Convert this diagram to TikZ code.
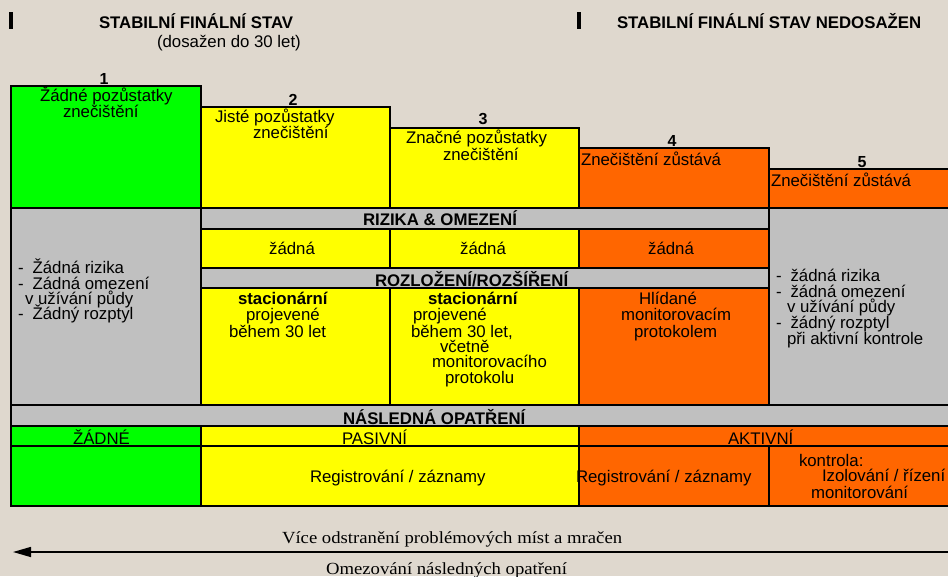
\documentclass[tikz,border=0pt]{standalone}
\usepackage{fontspec}
\setmainfont{Liberation Sans}
\newfontfamily\serifwide{Liberation Serif}[FakeStretch=1.1]
\usetikzlibrary{arrows.meta}
\definecolor{bg}{RGB}{223,216,206}
\definecolor{cgreen}{RGB}{0,255,0}
\definecolor{cyellow}{RGB}{255,255,0}
\definecolor{corange}{RGB}{255,102,0}
\definecolor{cgray}{RGB}{192,192,192}
\begin{document}
\begin{tikzpicture}[x=1pt,y=-1pt,
  cell/.style={draw=black,line width=2.4pt},
  thinline/.style={draw=black,line width=1.2pt},
  txt/.style={anchor=base west,inner sep=0pt,outer sep=0pt,font=\fontsize{16.8}{16}\selectfont},
  ctxt/.style={anchor=base,inner sep=0pt,outer sep=0pt,font=\fontsize{16.8}{16}\selectfont},
  hdr/.style={anchor=base west,inner sep=0pt,outer sep=0pt,font=\bfseries\fontsize{16.8}{16}\selectfont},
  num/.style={anchor=base,inner sep=0pt,outer sep=0pt,font=\bfseries\fontsize{16}{16}\selectfont},
  stxt/.style={anchor=base west,inner sep=0pt,outer sep=0pt,font=\serifwide\fontsize{17}{17}\selectfont},
  arr/.style={line width=1.5pt,-{Triangle[length=18pt,width=10pt]}}]
\fill[bg] (0,0) rectangle (948,576);
\useasboundingbox (0,0) rectangle (948,576);
% marker bars
\fill[black] (9.3,12) rectangle (12.7,29);
\fill[black] (577,12) rectangle (581,29);
% titles
\node[hdr] (t1) at (99,28) {STABILNÍ FINÁLNÍ STAV};
\node[txt] (t1b) at (157,47) {(dosažen do 30 let)};
\node[hdr] (t2) at (617,28) {STABILNÍ FINÁLNÍ STAV NEDOSAŽEN};
% top step boxes
\filldraw[cell,fill=cgreen] (11,86) rectangle (201,208);
\filldraw[cell,fill=cyellow] (201,107) rectangle (390,208);
\filldraw[cell,fill=cyellow] (390,128) rectangle (579,208);
\filldraw[cell,fill=corange] (579,148) rectangle (769,208);
\filldraw[cell,fill=corange] (769,169) rectangle (960,208);
% middle section
\filldraw[cell,fill=cgray] (11,208) rectangle (201,405);
\filldraw[cell,fill=cgray] (201,208) rectangle (769,229);
\filldraw[cell,fill=cyellow] (201,229) rectangle (390,268);
\filldraw[cell,fill=cyellow] (390,229) rectangle (579,268);
\filldraw[cell,fill=corange] (579,229) rectangle (769,268);
\filldraw[cell,fill=cgray] (201,268) rectangle (769,288);
\filldraw[cell,fill=cyellow] (201,288) rectangle (390,405);
\filldraw[cell,fill=cyellow] (390,288) rectangle (579,405);
\filldraw[cell,fill=corange] (579,288) rectangle (769,405);
\filldraw[cell,fill=cgray] (769,208) rectangle (960,405);
% bottom section
\filldraw[cell,fill=cgray] (11,405) rectangle (960,426);
\filldraw[cell,fill=cgreen] (11,426) rectangle (201,506);
\filldraw[cell,fill=cyellow] (201,426) rectangle (579,506);
\filldraw[cell,fill=corange] (579,426) rectangle (960,506);
\draw[thinline] (11,446) -- (960,446);
\draw[thinline] (769,446) -- (769,506);
% numbers
\node[num] (n1) at (104,84) {1};
\node[num] (n2) at (293,105) {2};
\node[num] (n3) at (483,124) {3};
\node[num] (n4) at (672,146) {4};
\node[num] (n5) at (862,167) {5};
% top box texts
\node[txt] (b1a) at (40,101.5) {Žádné pozůstatky};
\node[txt] (b1b) at (63,117) {znečištění};
\node[txt] (b2a) at (215,122) {Jisté pozůstatky};
\node[txt] (b2b) at (253,138) {znečištění};
\node[txt] (b3a) at (406,143) {Značné pozůstatky};
\node[txt] (b3b) at (443,160) {znečištění};
\node[txt] (b4a) at (581,165) {Znečištění zůstává};
\node[txt] (b5a) at (771,186) {Znečištění zůstává};
% left list
\node[txt] (l1) at (18,273) {-\hspace{9pt}Žádná rizika};
\node[txt] (l2) at (18,289) {-\hspace{9pt}Zádná omezení};
\node[txt] (l3) at (25,304) {v užívání půdy};
\node[txt] (l4) at (18,319) {-\hspace{9pt}Žádný rozptyl};
% headers
\node[hdr] (h1) at (363,225) {RIZIKA \& OMEZENÍ};
\node[hdr] (h2) at (375,286) {ROZLOŽENÍ/ROZŠÍŘENÍ};
\node[hdr] (h3) at (343,424) {NÁSLEDNÁ OPATŘENÍ};
% risk row
\node[ctxt] (r2) at (292,254) {žádná};
\node[ctxt] (r3) at (483,254) {žádná};
\node[ctxt] (r4) at (671,254) {žádná};
% distribution row
\node[hdr] (s2a) at (238,304) {stacionární};
\node[txt] (s2b) at (246,320) {projevené};
\node[txt] (s2c) at (229,337) {během 30 let};
\node[hdr] (s3a) at (428,304) {stacionární};
\node[txt] (s3b) at (413,320) {projevené};
\node[txt] (s3c) at (411,337) {během 30 let,};
\node[txt] (s3d) at (440,352) {včetně};
\node[txt] (s3e) at (432,367) {monitorovacího};
\node[txt] (s3f) at (445,383) {protokolu};
\node[txt] (s4a) at (639,304) {Hlídané};
\node[txt] (s4b) at (621,320) {monitorovacím};
\node[txt] (s4c) at (634,337) {protokolem};
% right list
\node[txt] (q1) at (776,281) {-\hspace{9pt}žádná rizika};
\node[txt] (q2) at (776,297) {-\hspace{9pt}žádná omezení};
\node[txt] (q3) at (787,312) {v užívání půdy};
\node[txt] (q4) at (776,328) {-\hspace{9pt}žádný rozptyl};
\node[txt] (q5) at (787,344) {při aktivní kontrole};
% follow-up measures
\node[txt] (m1) at (73,444) {ŽÁDNÉ};
\node[txt] (m2) at (342,444) {PASIVNÍ};
\node[txt] (m3) at (728,444) {AKTIVNÍ};
\node[txt] (m4) at (310,482) {Registrování / záznamy};
\node[txt] (m5) at (576,482) {Registrování / záznamy};
\node[txt] (m6) at (799,466) {kontrola:};
\node[txt] (m7) at (822,481) {Izolování / řízení};
\node[txt] (m8) at (811,498.5) {monitorování};
% arrow and captions
\node[stxt] (c1) at (282,543) {Více odstranění problémových míst a mračen};
\node[stxt] (c2) at (326,574) {Omezování následných opatření};
\coordinate (arrS) at (952,552);
\coordinate (arrE) at (13,552);
\draw[arr] (arrS) -- (arrE);
\end{tikzpicture}
\end{document}
